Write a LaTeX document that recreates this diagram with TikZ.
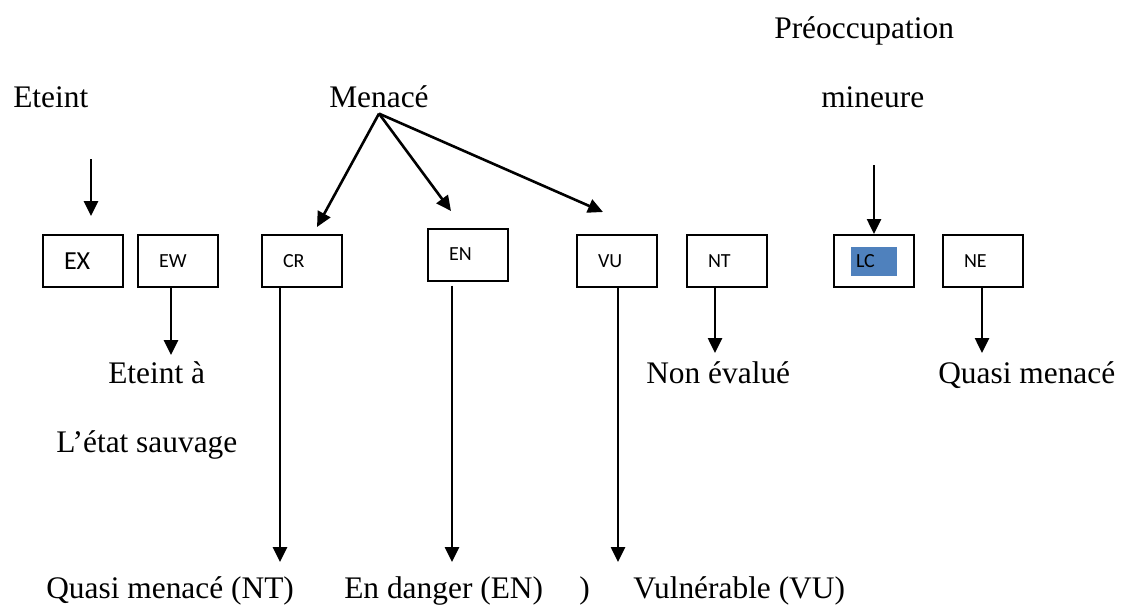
\documentclass[tikz,border=0pt]{standalone}
\usepackage{fontspec}
\setmainfont{Liberation Serif}
\newfontfamily\boxfont{Carlito}
\usetikzlibrary{arrows.meta}
\definecolor{lcblue}{RGB}{79,129,189}

\begin{document}
\begin{tikzpicture}[x=0.5pt,y=-0.5pt]
\tikzstyle{every path}=[line width=1.3pt]

\tikzstyle{catbox}=[draw,line width=1pt,rectangle,minimum height=26pt,text width=19pt,
inner xsep=10.5pt,inner ysep=0pt,align=left,font=\boxfont\fontsize{10}{12}\selectfont]
\tikzstyle{catname}=[anchor=base west,inner sep=0pt,font=\fontsize{15.7}{18}\selectfont]
\tikzstyle{arr}=[-{Triangle[length=7.5pt,width=7pt]}]

\useasboundingbox (0,0) rectangle (1122,606);

%% Category boxes
\node [catbox] (EX) at (83,261) {\fontsize{13}{15}\selectfont EX};
\node [catbox] (EW) at (178,261) {EW};
\node [catbox] (CR) at (302,261) {CR};
\node [catbox] (EN) at (468,254.5) {EN};
\node [catbox] (VU) at (617,261) {VU};
\node [catbox] (NT) at (727,261) {NT};
\node [catbox,inner xsep=8.5pt,text width=23pt] (LC) at (874,261)
  {\setlength\fboxsep{0pt}\colorbox{lcblue}{\makebox[23pt][l]{\hspace{2.5pt}LC\rule[-4pt]{0pt}{14.5pt}}}};
\node [catbox] (NE) at (983,261) {NE};

%% Top labels
\node [catname] (eteint) at (12,107) {Eteint};
\node [catname] (menace) at (328,107) {Menacé};
\node [catname] (preoc) at (773,38) {Préoccupation};
\node [catname] (mineure) at (820,107) {mineure};

%% Arrows coming down to the boxes
\coordinate (exfrom) at (91,159);
\coordinate (exto) at (91,216);
\draw [arr] (exfrom) -- (exto);

\coordinate (fork) at ([yshift=-2.5pt]menace.south);
\coordinate (crtip) at (317,227);
\coordinate (entip) at (451,211);
\coordinate (vutip) at (603,212);
\draw [arr] (fork) -- (crtip);
\draw [arr] (fork) -- (entip);
\draw [arr] (fork) -- (vutip);

\coordinate (lcfrom) at (874,165);
\draw [arr] (lcfrom) -- (LC.north);

%% Arrows going down from the boxes
\coordinate (ewto) at (171,355);
\coordinate (ntto) at (715,353);
\coordinate (neto) at (982,353);
\draw [arr] (EW.south -| ewto) -- (ewto);
\draw [arr] (NT.south -| ntto) -- (ntto);
\draw [arr] (NE.south -| neto) -- (neto);

\coordinate (crto) at (280,562);
\coordinate (ento) at (452,562);
\coordinate (vuto) at (618,562);
\draw [arr] (CR.south -| crto) -- (crto);
\draw [arr] ([yshift=-2pt]EN.south -| ento) -- (ento);
\draw [arr] (VU.south -| vuto) -- (vuto);

%% Lower labels
\node [catname] (ewname) at (107,383) {Eteint à};
\node [catname] (ewname2) at (55,452) {L’état sauvage};
\node [catname] (ntname) at (645,383) {Non évalué};
\node [catname] (nename) at (937,383) {Quasi menacé};

\node [catname] (crname) at (45,598) {Quasi menacé (NT)};
\node [catname] (enname) at (343,598) {En danger (EN)};
\node [catname] (paren) at (578,598) {)};
\node [catname] (vuname) at (632,598) {Vulnérable (VU)};
\end{tikzpicture}
\end{document}
